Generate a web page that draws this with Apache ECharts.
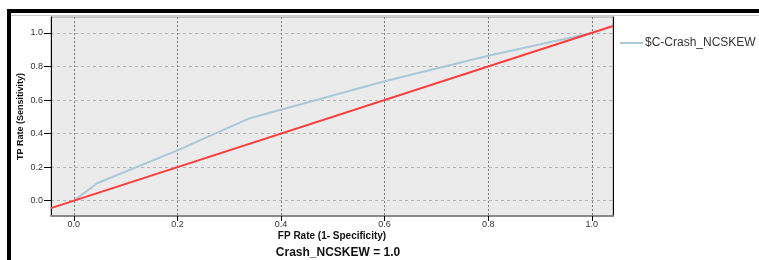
<!DOCTYPE html>
<html>
<head>
<meta charset="utf-8">
<script src="https://cdn.jsdelivr.net/npm/echarts@6/dist/echarts.min.js"></script>
<style>
  html, body { margin: 0; padding: 0; background: #fff; }
  #chart { width: 759px; height: 260px; }
</style>
</head>
<body>
<div id="chart"></div>
<script>
// ROC curve: [FP rate, TP rate]
const rocPoints = [
  [0, 0],
  [0.045, 0.104],
  [0.2, 0.3],
  [0.34, 0.492],
  [0.6, 0.712],
  [0.8, 0.864],
  [1, 1],
];
// diagonal reference line spans the whole axis range
const xRange = [-0.044, 1.041];
const yRange = [-0.091, 1.095];
const diagonal = [
  [xRange[0], xRange[0]],
  [xRange[1], xRange[1]],
];
const xTicks = [0, 0.2, 0.4, 0.6, 0.8, 1.0];
const yTicks = [0, 0.2, 0.4, 0.6, 0.8, 1.0];
const seriesName = "$C-Crash_NCSKEW";
const titleText = "Crash_NCSKEW = 1.0";

const chartInstance = echarts.init(document.getElementById("chart"));
const font = "Liberation Sans";

const option = {
  animation: false,
  backgroundColor: "#ffffff",
  title: {
    text: titleText,
    left: 333,
    top: 242,
    textAlign: "center",
    textStyle: {
      fontFamily: font,
      fontSize: 12,
      fontWeight: "bold",
      color: "#111",
    },
  },
  legend: {
    data: [{ name: seriesName }],
    left: 615,
    top: 32,
    itemWidth: 23,
    itemHeight: 2,
    itemGap: 3,
    icon: "rect",
    textStyle: {
      fontFamily: font,
      fontSize: 12,
      color: "#333",
      padding: [0, 0, 0, -3],
    },
  },
  grid: {
    left: 51,
    top: 17,
    right: 146,
    bottom: 44,
    show: true,
    backgroundColor: "#ebebeb",
    borderColor: "#9a9a9a",
    borderWidth: 1,
  },
  xAxis: {
    type: "value",
    min: xRange[0],
    max: xRange[1],
    name: "FP Rate (1- Specificity)",
    nameLocation: "middle",
    nameGap: 15,
    nameMoveOverlap: false,
    nameTextStyle: {
      fontFamily: font,
      fontSize: 10,
      fontWeight: "bold",
      color: "#111",
    },
    axisLine: { show: true, onZero: false, lineStyle: { color: "#8a8a8a", width: 2 } },
    axisTick: {
      show: true,
      length: 5,
      customValues: xTicks,
      lineStyle: { color: "#000" },
    },
    axisLabel: {
      customValues: xTicks,
      margin: 4,
      fontFamily: font,
      fontSize: 9,
      color: "#333",
      formatter: (v) => v.toFixed(1),
    },
    splitLine: {
      show: true,
      lineStyle: { color: "#7a7a7a", type: [2, 2], width: 1 },
    },
  },
  yAxis: [
    {
      type: "value",
      min: yRange[0],
      max: yRange[1],
      name: "TP Rate (Sensitivity)",
      nameLocation: "middle",
      nameGap: 26,
      nameMoveOverlap: false,
      nameTextStyle: {
        fontFamily: font,
        fontSize: 9,
        fontWeight: "bold",
        color: "#111",
      },
      axisLine: { show: true, onZero: false, lineStyle: { color: "#000", width: 1 } },
      axisTick: {
        show: true,
        length: 7,
        customValues: yTicks,
        lineStyle: { color: "#000" },
      },
      axisLabel: {
        customValues: yTicks,
        margin: 8,
        fontFamily: font,
        fontSize: 9,
        color: "#333",
        formatter: (v) => v.toFixed(1),
      },
      splitLine: {
        show: true,
        lineStyle: { color: "#b4b4b4", type: [3, 3], width: 1 },
      },
    },
    {
      type: "value",
      position: "right",
      min: yRange[0],
      max: yRange[1],
      axisLine: { show: true, onZero: false, lineStyle: { color: "#000", width: 1 } },
      axisTick: { show: false },
      axisLabel: { show: false },
      splitLine: { show: false },
    },
  ],
  graphic: [
    {
      type: "rect",
      shape: { x: 8, y: 9, width: 751, height: 4 },
      style: { fill: "#000" },
    },
    {
      type: "rect",
      shape: { x: 7, y: 9, width: 4, height: 251 },
      style: { fill: "#000" },
    },
    {
      type: "line",
      shape: { x1: 11, y1: 15.5, x2: 759, y2: 15.5 },
      style: { stroke: "#c8c8c8", lineWidth: 1 },
    },
  ],
  series: [
    {
      name: seriesName,
      type: "line",
      data: rocPoints,
      showSymbol: false,
      symbol: "none",
      itemStyle: { color: "#a9c8d8" },
      lineStyle: { color: "#a9c8d8", width: 2 },
      z: 2,
    },
    {
      name: "diagonal",
      type: "line",
      data: diagonal,
      showSymbol: false,
      symbol: "none",
      itemStyle: { color: "#ff3c3c" },
      lineStyle: { color: "#ff3c3c", width: 2 },
      z: 3,
    },
  ],
};

chartInstance.setOption(option);
</script>
</body>
</html>
